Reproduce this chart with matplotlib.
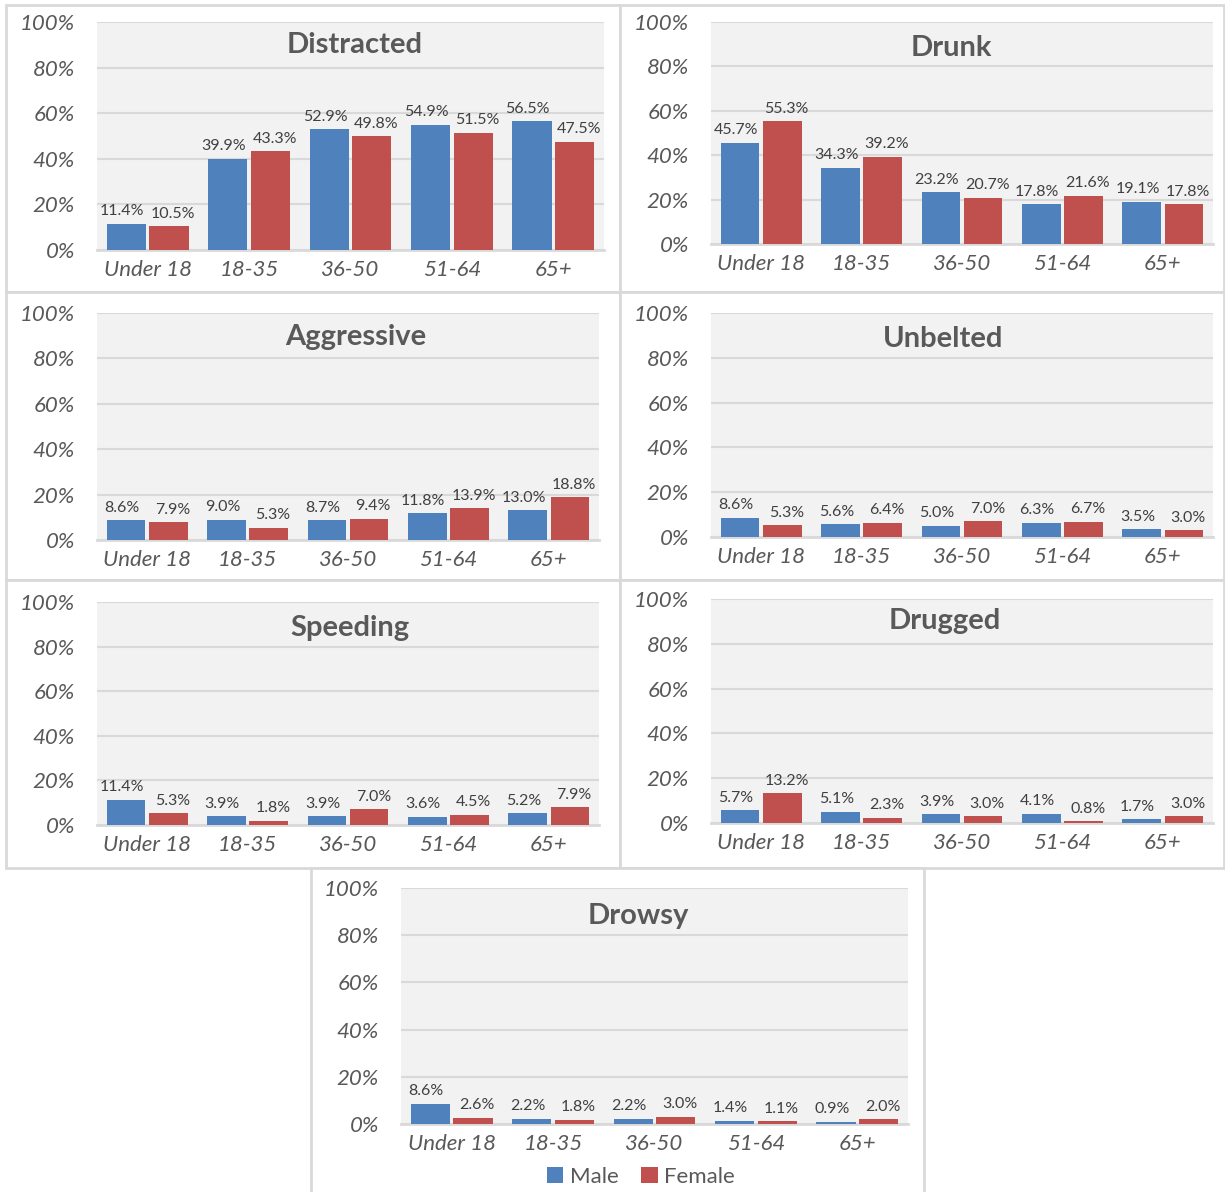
import matplotlib
matplotlib.use("Agg")
import matplotlib.pyplot as plt
from matplotlib.patches import Rectangle
import numpy as np

plt.rcParams["font.family"] = ["Lato", "DejaVu Sans"]

age_groups = ["Under 18", "18-35", "36-50", "51-64", "65+"]

distracted_male = [11.4, 39.9, 52.9, 54.9, 56.5]
distracted_female = [10.5, 43.3, 49.8, 51.5, 47.5]
drunk_male = [45.7, 34.3, 23.2, 17.8, 19.1]
drunk_female = [55.3, 39.2, 20.7, 21.6, 17.8]
aggressive_male = [8.6, 9.0, 8.7, 11.8, 13.0]
aggressive_female = [7.9, 5.3, 9.4, 13.9, 18.8]
unbelted_male = [8.6, 5.6, 5.0, 6.3, 3.5]
unbelted_female = [5.3, 6.4, 7.0, 6.7, 3.0]
speeding_male = [11.4, 3.9, 3.9, 3.6, 5.2]
speeding_female = [5.3, 1.8, 7.0, 4.5, 7.9]
drugged_male = [5.7, 5.1, 3.9, 4.1, 1.7]
drugged_female = [13.2, 2.3, 3.0, 0.8, 3.0]
drowsy_male = [8.6, 2.2, 2.2, 1.4, 0.9]
drowsy_female = [2.6, 1.8, 3.0, 1.1, 2.0]

BLUE = "#4f81bd"
RED = "#c0504d"
GRAY_TXT = "#595959"
GRID = "#d9d9d9"
PLOT_BG = "#f2f2f2"

W, H = 1225, 1192
fig = plt.figure(figsize=(W / 100, H / 100), dpi=100)

# outer chart boxes (x0, y0, x1, y1) in pixels from top-left
boxes = [(6, 5, 620, 292), (620, 5, 1224, 292),
         (6, 292, 620, 580), (620, 292, 1224, 580),
         (6, 580, 620, 868), (620, 580, 1224, 868),
         (311, 868, 924, 1198)]
for x0, y0, x1, y1 in boxes:
    fig.patches.append(Rectangle((x0 / W, 1 - y1 / H), (x1 - x0) / W, (y1 - y0) / H,
                                 transform=fig.transFigure, facecolor="white",
                                 edgecolor=GRID, linewidth=2, zorder=-1))

# title, male, female, plot rect (left, top, right, bottom px), title x px, title y px
panels = [
    ("Distracted", distracted_male, distracted_female, (97, 22, 604, 250), 355, 45),
    ("Drunk", drunk_male, drunk_female, (711, 22, 1213, 244), 951, 48),
    ("Aggressive", aggressive_male, aggressive_female, (97, 313, 599, 540), 356, 337),
    ("Unbelted", unbelted_male, unbelted_female, (711, 313, 1213, 537), 943, 339),
    ("Speeding", speeding_male, speeding_female, (97, 602, 599, 825), 350, 628),
    ("Drugged", drugged_male, drugged_female, (711, 599, 1213, 823), 945, 621),
    ("Drowsy", drowsy_male, drowsy_female, (401, 888, 908, 1124), 638, 916),
]

x = np.arange(len(age_groups))
bw = 0.385
off = 0.21
for title, male, female, (l, t, r, b), tx, ty in panels:
    ax = fig.add_axes([l / W, 1 - b / H, (r - l) / W, (b - t) / H])
    ax.set_facecolor(PLOT_BG)
    ax.bar(x - off, male, bw, color=BLUE, label="Male", zorder=3)
    ax.bar(x + off, female, bw, color=RED, label="Female", zorder=3)
    # value labels, nudged apart so neighbouring pairs don't collide
    for xi, m, f in zip(x, male, female):
        ax.annotate(f"{m:.1f}%", (xi - off, m), xytext=(-3, 4),
                    textcoords="offset points", ha="center", va="bottom",
                    fontsize=11.5, color="#404040")
        ax.annotate(f"{f:.1f}%", (xi + off, f), xytext=(3, 4),
                    textcoords="offset points", ha="center", va="bottom",
                    fontsize=11.5, color="#404040")
    ax.set_xlim(-0.5, 4.5)
    ax.set_ylim(0, 100)
    ax.set_yticks(range(0, 101, 20))
    ax.set_yticklabels([f"{v}%" for v in range(0, 101, 20)], fontsize=16,
                       style="italic", color=GRAY_TXT)
    ax.set_xticks(x)
    ax.set_xticklabels(age_groups, fontsize=16, style="italic", color=GRAY_TXT)
    ax.tick_params(axis="y", length=0, pad=16)
    ax.tick_params(axis="x", length=0, pad=7)
    ax.grid(axis="y", color=GRID, linewidth=1.5, zorder=0)
    for side in ["top", "left", "right"]:
        ax.spines[side].set_visible(False)
    ax.spines["bottom"].set_color(GRID)
    ax.spines["bottom"].set_linewidth(2)
    fig.text(tx / W, 1 - ty / H, title, fontsize=21, fontweight="bold",
             color=GRAY_TXT, ha="center", va="center")

handles, labels = ax.get_legend_handles_labels()
fig.legend(handles, labels, loc="center", bbox_to_anchor=(641 / W, 1 - 1177 / H),
           ncol=2, frameon=False, fontsize=16, labelcolor=GRAY_TXT,
           handlelength=0.75, handleheight=0.75, handletextpad=0.3, columnspacing=1.0)

fig.savefig("out.png", dpi=100)
